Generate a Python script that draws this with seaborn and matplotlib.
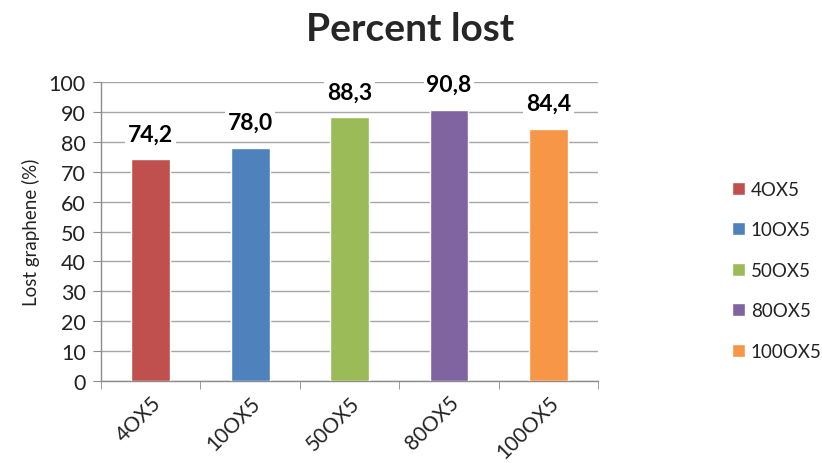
import matplotlib
matplotlib.use("Agg")
import matplotlib.pyplot as plt
import seaborn as sns
import pandas as pd
from matplotlib.ticker import MultipleLocator, FixedLocator

categories = ["4OX5", "10OX5", "50OX5", "80OX5", "100OX5"]
values = [74.2, 78.0, 88.3, 90.8, 84.4]
colors = ["#C0504D", "#4F81BD", "#9BBB59", "#8064A2", "#F79646"]

sns.set_style("white")
plt.rcParams["font.family"] = ["Lato", "DejaVu Sans"]

df = pd.DataFrame({"sample": categories, "lost": values})

fig = plt.figure(figsize=(8.22, 4.64), dpi=100)
ax = fig.add_axes([0.1229, 0.1767, 0.6046, 0.6444])

sns.barplot(data=df, x="sample", y="lost", hue="sample", palette=colors,
            order=categories, hue_order=categories, dodge=False,
            width=0.39, saturation=1, ax=ax, legend=True, zorder=3)

ax.set_ylim(0, 100)
ax.set_xlim(-0.5, len(categories) - 0.5)
ax.yaxis.set_major_locator(MultipleLocator(10))
ax.grid(axis="y", color="#a6a6a6", linewidth=1, zorder=0)
ax.set_axisbelow(True)

for side in ["top", "right"]:
    ax.spines[side].set_visible(False)
for side in ["left", "bottom"]:
    ax.spines[side].set_color("#8c8c8c")
    ax.spines[side].set_linewidth(1)

# tick marks sit at category boundaries, labels at category centres
ax.xaxis.set_minor_locator(FixedLocator([i - 0.5 for i in range(len(categories) + 1)]))
ax.tick_params(axis="x", which="minor", length=6, color="#8c8c8c", direction="out", bottom=True)
ax.tick_params(axis="x", which="major", length=0, pad=8)
ax.tick_params(axis="y", which="major", length=6, color="#8c8c8c", direction="out", left=True,
               labelsize=15.5, labelcolor="#222222", pad=5)
ax.set_xticks(range(len(categories)))
ax.set_xticklabels(categories, rotation=45, ha="right", rotation_mode="anchor",
                   fontsize=15, color="#222222")

ax.set_xlabel("")
ax.set_ylabel("Lost graphene (%)", fontsize=13.5, color="#222222", labelpad=6)

for i, v in enumerate(values):
    ax.text(i, v + 8.4, f"{v:.1f}".replace(".", ","), ha="center", va="center",
            fontsize=16.5, fontweight="bold", color="black", zorder=5,
            bbox=dict(facecolor="white", edgecolor="none", pad=2))

fig.suptitle("Percent lost", fontsize=28, fontweight="bold", x=0.499, y=0.975)

leg = ax.legend(loc="center left", bbox_to_anchor=(1.243, 0.37), frameon=False,
                fontsize=13.5, handlelength=0.7, handleheight=0.7, handletextpad=0.3,
                labelspacing=1.25, labelcolor="#222222", borderaxespad=0.3)

fig.savefig("out.png", dpi=100)
